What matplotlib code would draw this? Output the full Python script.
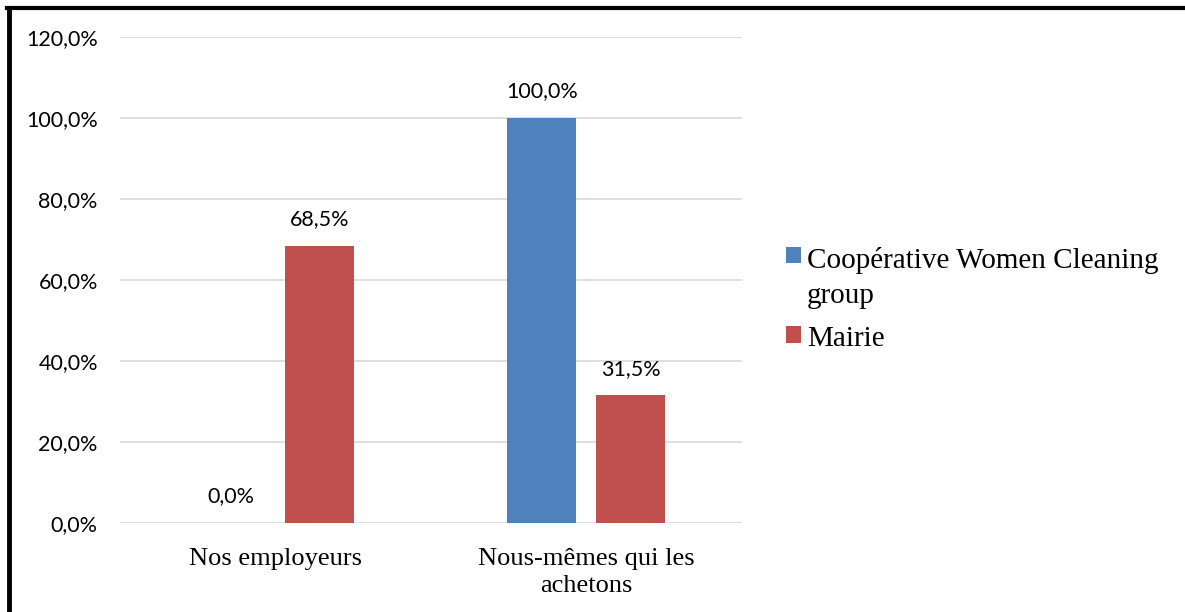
import numpy as np
import matplotlib.pyplot as plt
from matplotlib.lines import Line2D

# données du graphique
categories = ['Nos employeurs', 'Nous-mêmes qui les\nachetons']
series_names = ['Coopérative Women Cleaning\ngroup', 'Mairie']
cooperative = [0.0, 1.0]
mairie = [0.685, 0.315]
colors = ['#4F81BD', '#C0504D']

fig = plt.figure(figsize=(11.85, 6.12), dpi=100)
ax = fig.add_axes([0.1013, 0.1454, 0.5245, 0.7941])

x = np.arange(len(categories))
w = 0.222
off = 0.143
bars1 = ax.bar(x - off, cooperative, w, color=colors[0], label=series_names[0], zorder=3)
bars2 = ax.bar(x + off, mairie, w, color=colors[1], label=series_names[1], zorder=3)

# étiquettes de données
for bars in (bars1, bars2):
    for b in bars:
        v = b.get_height()
        ax.annotate(f'{v*100:.1f}%'.replace('.', ','), (b.get_x() + b.get_width() / 2, v),
                    xytext=(0, 12), textcoords='offset points', ha='center', va='bottom',
                    fontsize=15.5, family='Lato')

ax.set_xlim(-0.5, 1.5)
ax.set_ylim(0, 1.2)
yt = np.arange(0, 1.21, 0.2)
ax.set_yticks(yt)
ax.set_yticklabels([f'{t*100:.1f}%'.replace('.', ',') for t in yt], fontsize=15.5, family='Lato')
ax.set_xticks(x)
ax.set_xticklabels(categories, fontsize=19, family='Liberation Serif', linespacing=1.3)
ax.tick_params(length=0)
ax.tick_params(axis='y', pad=16)
ax.tick_params(axis='x', pad=18)
ax.grid(axis='y', color='#d9d9d9', lw=1.2, zorder=0)
for s in ax.spines.values():
    s.set_visible(False)

leg = ax.legend(loc='center left', bbox_to_anchor=(1.03, 0.46), frameon=False,
                prop={'family': 'Liberation Serif', 'size': 21},
                handlelength=0.5, handleheight=0.5, handletextpad=0.2, labelspacing=0.6)
for t in leg.get_texts():
    t.set_linespacing(1.45)
# carré aligné sur la première ligne du texte
for box in leg._legend_handle_box.get_children()[0].get_children():
    box.align = 'top'

# cadre noir (gauche et haut)
fig.add_artist(Line2D([0.0076, 0.0076], [0, 0.9865], color='black', lw=3.5, transform=fig.transFigure))
fig.add_artist(Line2D([0.006, 1.0], [0.9865, 0.9865], color='black', lw=3, transform=fig.transFigure))

fig.savefig('out.png', dpi=100)
